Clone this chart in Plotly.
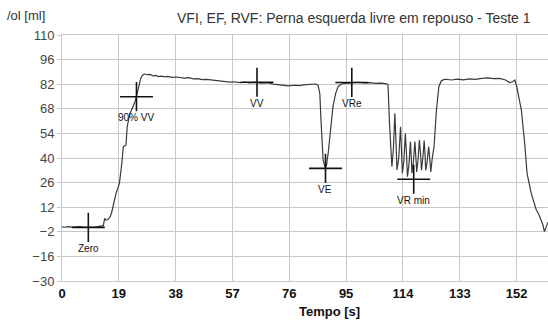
import plotly.graph_objects as go

# ---- data ----
time_s = [0, 1, 2, 3, 4, 5, 6, 7, 8, 9, 10, 11, 12, 13, 13.8, 14.3, 14.7, 15.4, 16.1, 16.6,
          17.4, 18.1, 18.7, 19.2, 20.0, 20.5, 21.0, 21.4, 21.8, 22.3, 22.7, 23.2, 23.8, 24.4,
          24.9, 25.4, 25.8, 26.2, 26.6, 27.2, 27.7, 28.6, 29.4, 30.5, 31.3, 32.2, 33.3, 34.3,
          35.3, 36.8, 38.3, 39.4, 40.9, 42.4, 43.9, 45.4, 46.9, 48.4, 50.5, 52.5, 54.0, 56.1,
          57.5, 59.5, 61.5, 62.6, 64.6, 66.6, 68.6, 70.6, 72.6, 74.2, 75.7, 77.7, 79.7, 80.7,
          82.7, 84.8, 85.6, 86.2, 86.6, 86.9, 87.3, 87.9, 88.4, 89.0, 89.5, 90.1, 90.6, 91.5,
          92.3, 93.4, 95.1, 96.9, 98.9, 100.9, 102.9, 104.9, 107.0, 108.5, 109.0, 109.5, 110.3,
          110.8, 111.3, 111.7, 112.0, 112.6, 113.2, 113.5, 113.8, 114.3, 114.8, 115.2, 115.5,
          116.0, 116.5, 116.8, 117.0, 117.5, 118.0, 118.3, 118.6, 119.1, 119.5, 119.9, 120.2,
          120.7, 121.1, 121.4, 121.6, 122.1, 122.6, 123.0, 123.3, 123.8, 124.4, 125.2, 126.0,
          126.8, 127.6, 128.5, 130.2, 132.2, 134.2, 136.2, 138.2, 140.3, 142.3, 144.3, 146.3,
          148.3, 149.6, 150.7, 151.4, 152.0, 152.5, 153.6, 154.7, 155.5, 156.9, 157.7, 158.6,
          159.4, 160.2, 160.8, 161.3, 161.8, 162.3, 162.5]
volume_ml = [0.8, 0.6, 0.9, 0.7, 0.5, 0.8, 1.0, 0.7, 0.6, 0.9, 0.8, 0.6, 0.9, 1.0, 1.5, 5.7,
             4.7, 5.0, 6.6, 9.0, 16.0, 20.0, 23.0, 25.6, 37.0, 46.4, 47.0, 47.4, 57.8, 62.0,
             65.4, 67.0, 69.2, 72.0, 74.9, 79.0, 82.5, 84.5, 86.3, 87.5, 87.8, 87.4, 87.6, 86.8,
             87.0, 86.3, 86.6, 86.2, 86.4, 85.9, 86.1, 85.8, 85.5, 85.7, 85.0, 85.2, 84.6, 84.8,
             84.2, 83.8, 83.6, 83.2, 83.4, 82.9, 83.1, 82.7, 83.0, 82.6, 82.8, 82.0, 81.5, 81.2,
             81.0, 81.4, 81.2, 81.6, 81.9, 82.1, 81.5, 76.8, 61.6, 46.4, 38.9, 35.0, 35.5, 42.7,
             52.1, 61.6, 69.2, 76.8, 80.6, 82.1, 82.3, 82.8, 83.1, 82.7, 82.9, 82.5, 82.6, 82.2,
             81.8, 60.0, 35.0, 45.0, 65.4, 48.0, 33.2, 40.0, 57.8, 45.0, 31.3, 38.0, 54.0, 42.0,
             29.4, 36.0, 49.3, 40.0, 31.3, 38.0, 49.3, 41.0, 32.0, 40.0, 50.2, 42.0, 33.0, 41.0,
             50.0, 42.0, 33.0, 38.0, 46.5, 39.0, 32.0, 40.0, 46.5, 67.3, 80.6, 83.8, 84.6, 84.8,
             84.4, 84.9, 84.5, 85.0, 84.7, 85.3, 85.6, 85.2, 85.3, 84.4, 82.9, 83.4, 84.4, 81.0,
             76.8, 67.3, 48.4, 31.3, 19.9, 15.0, 10.4, 8.0, 4.7, 2.0, -1.9, 0.0, 2.9, 3.5]

marker_names = ["Zero", "90% VV", "VV", "VE", "VRe", "VR min"]
marker_t = [8.8, 24.9, 65.2, 88.1, 96.9, 117.6]
marker_v = [0.5, 74.9, 83.1, 34.1, 83.0, 27.9]

x_ticks = [0, 19, 38, 57, 76, 95, 114, 133, 152]
y_ticks = [110, 96, 82, 68, 54, 40, 26, 12, -2, -16, -30]

title_text = "VFI, EF, RVF: Perna esquerda livre em repouso - Teste 1"
y_label = "/ol [ml]"
x_label = "Tempo [s]"

FONT = "Liberation Sans, Arial, sans-serif"

fig = go.Figure()
fig.add_trace(go.Scatter(x=time_s, y=volume_ml, mode="lines",
                         line=dict(color="#3a3a3a", width=1.2), hoverinfo="skip",
                         showlegend=False))

# crosshair markers
hw, hh = 5.5, 8.3
for name, t, v in zip(marker_names, marker_t, marker_v):
    fig.add_shape(type="line", x0=t - hw, x1=t + hw, y0=v, y1=v,
                  line=dict(color="#111111", width=1.6))
    fig.add_shape(type="line", x0=t, x1=t, y0=v - hh, y1=v + hh,
                  line=dict(color="#111111", width=1.6))
    fig.add_annotation(x=t, y=v, text=name, showarrow=False, yshift=-21,
                       font=dict(family=FONT, size=10, color="#111111"),
                       xanchor="center", yanchor="middle")

fig.add_annotation(xref="paper", yref="paper", x=0.2325, y=1.069, text=title_text,
                   showarrow=False, xanchor="left", yanchor="middle",
                   font=dict(family=FONT, size=14, color="#333333"))
fig.add_annotation(xref="paper", yref="paper", x=-0.117, y=1.081, text=y_label,
                   showarrow=False, xanchor="left", yanchor="middle",
                   font=dict(family=FONT, size=13, color="#333333"))
fig.add_annotation(xref="paper", yref="paper", x=0.551, y=-0.125, text="<b>" + x_label + "</b>",
                   showarrow=False, xanchor="center", yanchor="middle",
                   font=dict(family=FONT, size=13, color="#111111"))

fig.update_xaxes(range=[0, 162.5], tickvals=x_ticks,
                 ticktext=["<b>%d</b>" % v for v in x_ticks],
                 showgrid=True, gridcolor="#c8c8c8", gridwidth=1, zeroline=False,
                 showline=True, linecolor="#c8c8c8", linewidth=1, mirror=True,
                 ticks="", tickfont=dict(family=FONT, size=13, color="#111111"))
fig.update_yaxes(range=[-30, 110], tickvals=y_ticks,
                 showgrid=True, gridcolor="#c8c8c8", gridwidth=1, zeroline=False,
                 showline=True, linecolor="#c8c8c8", linewidth=1,
                 ticks="outside", ticklen=4, tickcolor="#c8c8c8",
                 tickfont=dict(family=FONT, size=13, color="#444444"))

fig.update_layout(width=548, height=321, margin=dict(l=62, r=0, t=35, b=40),
                  plot_bgcolor="white", paper_bgcolor="white",
                  font=dict(family=FONT))

fig.write_html("out.html", config={"displayModeBar": False},
               post_script="document.body.style.margin='0px';document.body.style.overflow='hidden';")
